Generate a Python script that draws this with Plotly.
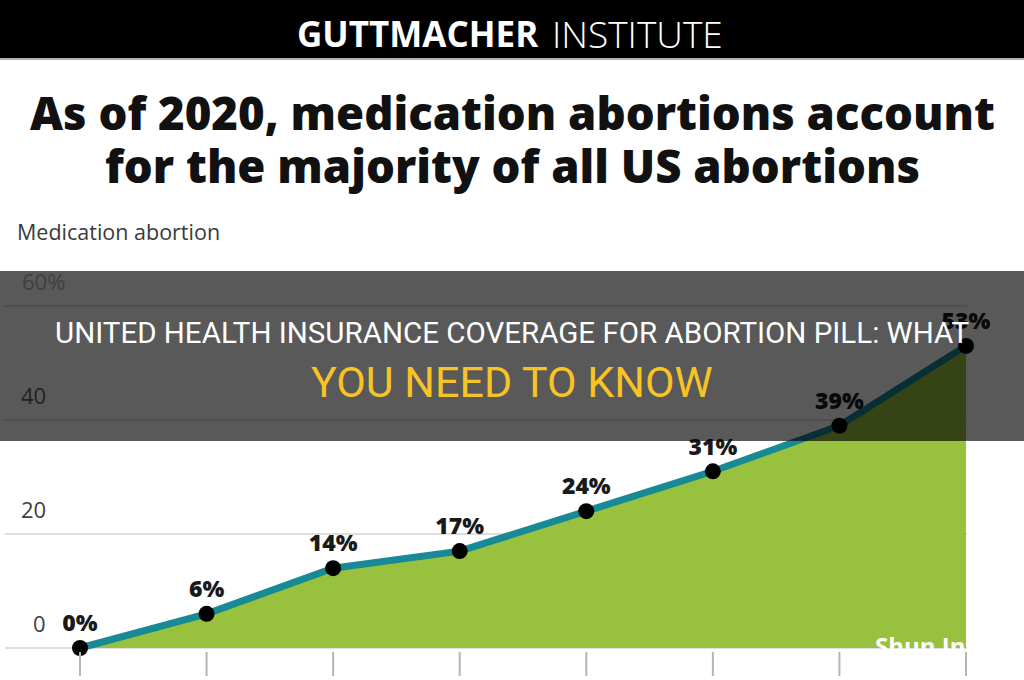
import plotly.graph_objects as go

# ---- data ----
years = ["2000", "2001", "2005", "2008", "2011", "2014", "2017", "2020"]
share = [0, 6, 14, 17, 24, 31, 39, 53]
labels = ["0%", "6%", "14%", "17%", "24%", "31%", "39%", "53%"]
y_ticks = [0, 20, 40, 60]
y_tick_text = ["0", "20", "40", "60%"]

header_bold = "GUTTMACHER"
header_light = "INSTITUTE"
title_lines = ["As of 2020, medication abortions account",
               "for the majority of all US abortions"]
y_title = "Medication abortion"
banner_1 = "UNITED HEALTH INSURANCE COVERAGE FOR ABORTION PILL: WHAT"
banner_2 = "YOU NEED TO KNOW"
watermark = "Shun Info"

W, H = 1024, 680
def py(p):
    return 1 - p / H

xi = list(range(len(years)))

fig = go.Figure()
fig.add_trace(go.Scatter(
    x=xi, y=share, mode="lines+markers+text",
    fill="tozeroy", fillcolor="#98C13D",
    line=dict(color="#178A95", width=7),
    marker=dict(color="#000000", size=16),
    text=labels, textposition="top center",
    textfont=dict(family="Open Sans", size=23, color="#1a1a1a", weight=800),
    cliponaxis=False, hoverinfo="skip", showlegend=False,
))

shapes = []
# gridlines
for v in y_ticks:
    shapes.append(dict(type="line", xref="paper", yref="y", x0=5 / W, x1=967 / W,
                       y0=v, y1=v, line=dict(color="#d3d3d3", width=1.5), layer="below"))
# bottom tick marks
for i in xi:
    shapes.append(dict(type="line", xref="x", yref="paper", x0=i, x1=i,
                       y0=py(676), y1=py(652), line=dict(color="#b5b5b5", width=2)))
# header bar
shapes.append(dict(type="rect", xref="paper", yref="paper", x0=0, x1=1, y0=py(58), y1=1,
                   fillcolor="#000000", line=dict(width=0)))
shapes.append(dict(type="line", xref="paper", yref="paper", x0=0, x1=1, y0=py(59), y1=py(59),
                   line=dict(color="#9a9a9a", width=1.5)))
# dark banner overlay
shapes.append(dict(type="rect", xref="paper", yref="paper", x0=0, x1=1, y0=py(441), y1=py(271),
                   fillcolor="rgba(0,0,0,0.65)", line=dict(width=0), layer="above"))

ann = []
ann.append(dict(text=header_bold, x=541 / W, y=py(33), xref="paper", yref="paper",
                xanchor="right", yanchor="middle", showarrow=False,
                font=dict(family="Open Sans", size=35, color="white", weight=700)))
ann.append(dict(text=header_light, x=550 / W, y=py(33), xref="paper", yref="paper",
                xanchor="left", yanchor="middle", showarrow=False,
                font=dict(family="Open Sans", size=37, color="white", weight=300)))
for k, line in enumerate(title_lines):
    ann.append(dict(text=line, x=0.5, y=py(112 + 53 * k), xref="paper", yref="paper",
                    xanchor="center", yanchor="middle", showarrow=False,
                    font=dict(family="Open Sans", size=45.5, color="#111111", weight=800)))
ann.append(dict(text=y_title, x=15 / W, y=py(231), xref="paper", yref="paper",
                xanchor="left", yanchor="middle", showarrow=False,
                font=dict(family="Open Sans", size=21.5, color="#3a3a3a")))
for v, t in zip(y_ticks, y_tick_text):
    pct = t.endswith("%")
    ann.append(dict(text=t, x=(20 if pct else 48) / W, y=v, xref="paper", yref="y",
                    xanchor="left" if pct else "right", yanchor="middle", yshift=25,
                    showarrow=False,
                    font=dict(family="Open Sans", size=22,
                              color="#222222" if 25 < v < 55 else "#3f3f3f")))
ann.append(dict(text=banner_1, x=0.5, y=py(333), xref="paper", yref="paper",
                xanchor="center", yanchor="middle", showarrow=False,
                font=dict(family="Roboto", size=29.5, color="white")))
ann.append(dict(text=banner_2, x=0.5, y=py(382), xref="paper", yref="paper",
                xanchor="center", yanchor="middle", showarrow=False,
                font=dict(family="Roboto", size=43, color="#F7C325")))
ann.append(dict(text=watermark, x=873 / W, y=py(645), xref="paper", yref="paper",
                xanchor="left", yanchor="middle", showarrow=False,
                font=dict(family="Open Sans", size=24, color="white", weight=700)))

# axis ranges so categories sit at px 80..966 and 0..60 at px 648..306
px_per_x = (966 - 80) / (len(years) - 1)
x0 = -80 / px_per_x
x1 = x0 + W / px_per_x
px_per_y = (648 - 306) / 60
y_top = 648 / px_per_y
y_bot = -(H - 648) / px_per_y

fig.update_layout(
    width=W, height=H, margin=dict(l=0, r=0, t=0, b=0),
    paper_bgcolor="white", plot_bgcolor="white",
    xaxis=dict(range=[x0, x1], visible=False, fixedrange=True),
    yaxis=dict(range=[y_bot, y_top], visible=False, fixedrange=True),
    shapes=shapes, annotations=ann, showlegend=False,
)
fig.write_html("out.html")
